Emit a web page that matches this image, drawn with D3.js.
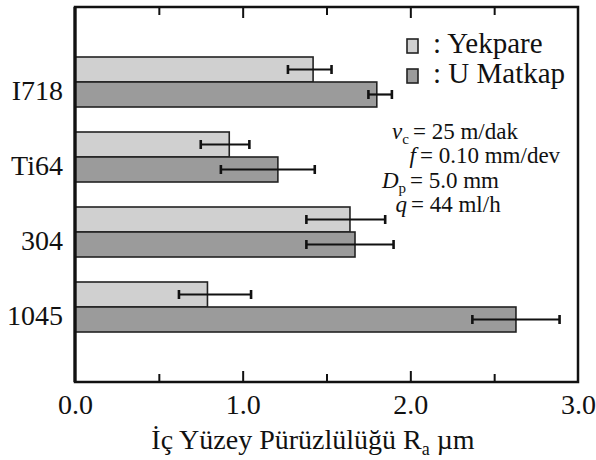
<!DOCTYPE html>
<html>
<head>
<meta charset="UTF-8">
<title>İç Yüzey Pürüzlülüğü</title>
<style>
  body { margin: 0; background: #fff; }
</style>
</head>
<body>
<div id="chart"></div>
<script src="https://d3js.org/d3.v7.min.js"></script>
<script>
// data
const categories = ["I718", "Ti64", "304", "1045"];
const yekpare   = [1.42, 0.92, 1.64, 0.79];
const yekpareLo = [1.27, 0.75, 1.38, 0.62];
const yekpareHi = [1.53, 1.04, 1.85, 1.05];
const matkap    = [1.80, 1.21, 1.67, 2.63];
const matkapLo  = [1.75, 0.87, 1.38, 2.37];
const matkapHi  = [1.89, 1.43, 1.90, 2.89];
const xLabels = [0, 1, 2, 3];
const xMinor = [0.5, 1.5, 2.5];
const xMajor = [1, 2];

const width = 596, height = 460;
const plotL = 75, plotR = 578, plotT = 7, plotB = 382;
const barH = 25;
const lightFill = "#d0d0d0", darkFill = "#9b9b9b";
const fontName = "Liberation Serif";

const svg = d3.select("#chart").append("svg")
    .attr("width", width)
    .attr("height", height);

const x = d3.scaleLinear().domain([0, 3]).range([plotL, plotR]);
const y = d3.scalePoint().domain(categories).range([plotT, plotB]).padding(1);

const series = [
    {name: ": Yekpare", vals: yekpare, lo: yekpareLo, hi: yekpareHi, fill: lightFill, off: -barH},
    {name: ": U Matkap", vals: matkap, lo: matkapLo, hi: matkapHi, fill: darkFill, off: 0}
];

function txt(sel, size) {
    return sel.attr("font-family", fontName)
        .style("font-family", '"Liberation Serif"')
        .style("font-size", size + "px")
        .style("fill", "#111");
}

// bars
series.forEach(s => {
    const g = svg.append("g");
    g.selectAll("rect")
        .data(categories)
        .enter().append("rect")
        .attr("x", x(0))
        .attr("y", d => y(d) + s.off)
        .attr("width", (d, i) => x(s.vals[i]) - x(0))
        .attr("height", barH)
        .attr("fill", s.fill)
        .attr("stroke", "#222")
        .attr("stroke-width", 1.6);
});

// error bars
series.forEach(s => {
    const g = svg.append("g").attr("stroke", "#111").attr("stroke-width", 2.2);
    categories.forEach((c, i) => {
        const cy = y(c) + s.off + barH / 2;
        g.append("line")
            .attr("x1", x(s.lo[i])).attr("x2", x(s.hi[i]))
            .attr("y1", cy).attr("y2", cy);
        [s.lo[i], s.hi[i]].forEach(v => {
            g.append("line")
                .attr("x1", x(v)).attr("x2", x(v))
                .attr("y1", cy - 4.5).attr("y2", cy + 4.5)
                .attr("stroke-width", 2.6);
        });
    });
});

// frame
svg.append("rect")
    .attr("x", plotL).attr("y", plotT)
    .attr("width", plotR - plotL).attr("height", plotB - plotT)
    .attr("fill", "none")
    .attr("stroke", "#111")
    .attr("stroke-width", 2.5);
svg.append("line")
    .attr("x1", plotL).attr("x2", plotL)
    .attr("y1", plotT).attr("y2", plotB)
    .attr("stroke", "#111").attr("stroke-width", 3.2);

// inside ticks, top and bottom
function ticks(axisFn, yPos, vals, size) {
    const g = svg.append("g")
        .attr("transform", `translate(0,${yPos})`)
        .call(axisFn(x).tickValues(vals).tickSize(-size).tickFormat(""));
    g.select(".domain").remove();
    g.selectAll(".tick line").attr("stroke", "#111").attr("stroke-width", 2);
}
ticks(d3.axisBottom, plotB, xMajor, 11);
ticks(d3.axisBottom, plotB, xMinor, 8);
ticks(d3.axisTop, plotT, xMajor, 11);
ticks(d3.axisTop, plotT, xMinor, 8);

// tick labels
const xAxis = svg.append("g")
    .attr("transform", `translate(0,${plotB})`)
    .call(d3.axisBottom(x).tickValues(xLabels).tickSize(0).tickFormat(d3.format(".1f")))
    .attr("font-family", fontName);
xAxis.select(".domain").remove();
txt(xAxis.selectAll(".tick text"), 28)
    .attr("y", 32).attr("dy", 0);

// category labels
const yAxis = svg.append("g")
    .attr("transform", `translate(${plotL},0)`)
    .call(d3.axisLeft(y).tickSize(0))
    .attr("font-family", fontName);
yAxis.select(".domain").remove();
txt(yAxis.selectAll(".tick text"), 28)
    .attr("x", -12).attr("y", 17).attr("dy", 0)
    .attr("text-anchor", "end");

// axis title
const title = txt(svg.append("text"), 28)
    .attr("x", 313).attr("y", 449)
    .attr("text-anchor", "middle");
title.append("tspan").text("İç Yüzey Pürüzlülüğü R");
title.append("tspan").attr("dy", 6).style("font-size", "18px").text("a");
title.append("tspan").attr("dy", -6).text(" µm");

// legend
series.forEach((s, i) => {
    const ly = 53 + i * 30;
    svg.append("rect")
        .attr("x", 407).attr("y", ly - 14)
        .attr("width", 11).attr("height", 14)
        .attr("fill", s.fill)
        .attr("stroke", "#222").attr("stroke-width", 1.6);
    txt(svg.append("text"), 29)
        .attr("x", 433).attr("y", ly)
        .text(s.name);
});

// cutting conditions
const params = [
    {sym: "v", sub: "c", rest: "= 25 m/dak", ex: 413},
    {sym: "f", sub: "", rest: "= 0.10 mm/dev", ex: 420},
    {sym: "D", sub: "p", rest: "= 5.0 mm", ex: 410},
    {sym: "q", sub: "", rest: "= 44 ml/h", ex: 411}
];
params.forEach((p, i) => {
    const by = 139 + i * 24.3;
    const t = txt(svg.append("text"), 23)
        .attr("x", p.ex - 4).attr("y", by)
        .attr("text-anchor", "end");
    t.append("tspan").style("font-style", "italic").text(p.sym);
    if (p.sub) t.append("tspan").attr("dy", 5).style("font-size", "15px").text(p.sub);
    txt(svg.append("text"), 23)
        .attr("x", p.ex).attr("y", by)
        .text(p.rest);
});
</script>
</body>
</html>
